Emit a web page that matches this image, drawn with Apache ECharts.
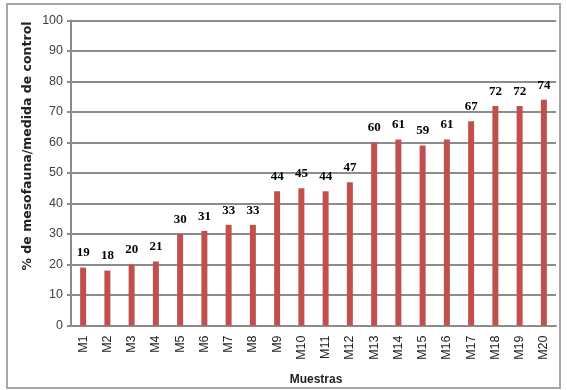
<!DOCTYPE html>
<html><head><meta charset="utf-8">
<script src="https://cdn.jsdelivr.net/npm/echarts@6/dist/echarts.min.js"></script>
<style>html,body{margin:0;padding:0;background:#fff}#c{width:567px;height:390px}</style>
</head><body><div id="c"></div>
<script>
const categories = ['M1','M2','M3','M4','M5','M6','M7','M8','M9','M10','M11','M12','M13','M14','M15','M16','M17','M18','M19','M20'];
const values = [19,18,20,21,30,31,33,33,44,45,44,47,60,61,59,61,67,72,72,74];
const yTitle = '% de mesofauna/medida de control';
const xTitle = 'Muestras';

const chart = echarts.init(document.getElementById('c'), null, {renderer:'canvas'});
chart.setOption({
  animation:false,
  backgroundColor:'#fff',
  grid:{left:71, right:11, top:20.5, bottom:64.5},
  graphic:[
    {type:'rect', shape:{x:7,y:4,width:553,height:384}, style:{fill:'none', stroke:'#a6a6a6', lineWidth:2}, z:-1},
    {type:'text', x:28, y:146, rotation:Math.PI/2, style:{text:yTitle, fill:'#222', font:'bold 12.5px "DejaVu Sans"', textAlign:'center', textVerticalAlign:'middle'}},
    {type:'text', x:316, y:380, style:{text:xTitle, fill:'#222', font:'bold 12px "Liberation Sans"', textAlign:'center', textVerticalAlign:'middle'}}
  ],
  xAxis:{
    type:'category', data:categories,
    axisLine:{lineStyle:{color:'#8c8c8c', width:2}},
    axisTick:{show:false},
    axisLabel:{rotate:90, color:'#222', fontSize:12.5, fontFamily:'Liberation Sans', margin:10}
  },
  yAxis:{
    type:'value', min:0, max:100, interval:10,
    axisLine:{show:true, lineStyle:{color:'#8c8c8c', width:2}},
    axisTick:{show:true, length:4, lineStyle:{color:'#8c8c8c', width:2}},
    splitLine:{lineStyle:{color:'#8c8c8c', width:2}},
    axisLabel:{color:'#404040', fontSize:12.5, fontFamily:'Liberation Sans', margin:8}
  },
  series:[{
    type:'bar', data:values, barWidth:6,
    itemStyle:{color:'#c0504d'},
    label:{show:true, position:'top', distance:8, color:'#000', fontWeight:'bold', fontSize:13, fontFamily:'Liberation Serif'}
  }]
});
</script></body></html>
